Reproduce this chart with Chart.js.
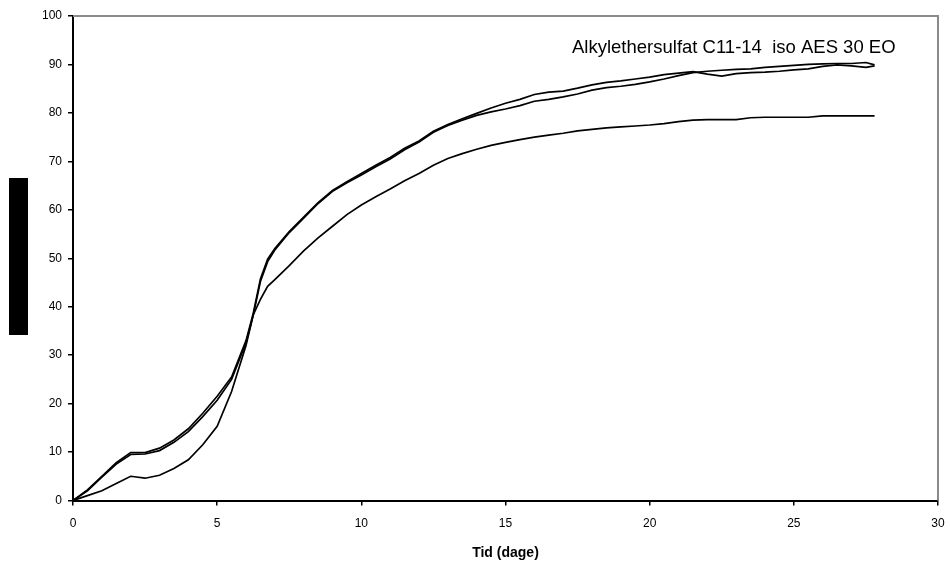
<!DOCTYPE html>
<html>
<head>
<meta charset="utf-8">
<script src="https://cdn.jsdelivr.net/npm/chart.js@4"></script>
<style>
  body { margin: 0; background: #fff; }
  #wrap { width: 950px; height: 575px; }
</style>
</head>
<body>
<div id="wrap"><canvas id="myChart" width="950" height="575"></canvas></div>
<script>
// dage (x)
const dage = [0, 0.5, 1, 1.5, 2, 2.5, 3, 3.5, 4, 4.5, 5, 5.5, 6, 6.25, 6.5, 6.75, 7, 7.5, 8, 8.5, 9, 9.5,
  10, 10.5, 11, 11.5, 12, 12.5, 13, 13.5, 14, 14.5, 15, 15.5, 16, 16.5, 17, 17.5, 18, 18.5, 19, 19.5,
  20, 20.5, 21, 21.5, 22, 22.5, 23, 23.5, 24, 24.5, 25, 25.5, 26, 26.5, 27, 27.5, 27.8];

const serieA = [0, 2.2, 5.0, 7.8, 9.9, 9.9, 10.8, 12.5, 14.8, 18.0, 21.5, 25.5, 33.0, 38.6, 45.7, 49.8, 52.0, 55.5, 58.5, 61.5, 64.0, 65.8,
  67.5, 69.2, 70.8, 72.7, 74.2, 76.2, 77.6, 78.8, 79.9, 81.0, 82.0, 82.8, 83.8, 84.3, 84.5, 85.1, 85.8, 86.3, 86.6, 87.0,
  87.4, 87.9, 88.2, 88.5, 88.0, 87.6, 88.1, 88.3, 88.4, 88.6, 88.9, 89.1, 89.6, 89.9, 89.7, 89.4, 89.7];

const serieB = [0, 2.0, 4.8, 7.5, 9.5, 9.6, 10.3, 12.0, 14.2, 17.3, 20.7, 25.0, 32.5, 38.2, 45.2, 49.3, 51.7, 55.3, 58.3, 61.3, 63.8, 65.6,
  67.2, 68.9, 70.5, 72.4, 74.0, 76.0, 77.4, 78.5, 79.5, 80.2, 80.8, 81.5, 82.4, 82.8, 83.3, 83.9, 84.7, 85.2, 85.5, 85.9,
  86.4, 87.0, 87.7, 88.3, 88.6, 88.8, 89.0, 89.1, 89.4, 89.6, 89.8, 90.0, 90.1, 90.2, 90.2, 90.4, 89.9];

const serieC = [0, 1.0, 2.0, 3.5, 5.0, 4.6, 5.2, 6.6, 8.4, 11.5, 15.3, 22.5, 32.0, 38.3, 41.5, 44.2, 45.6, 48.5, 51.5, 54.2, 56.6, 59.0,
  61.0, 62.7, 64.3, 66.0, 67.5, 69.2, 70.6, 71.6, 72.5, 73.3, 73.9, 74.5, 75.0, 75.4, 75.8, 76.3, 76.6, 76.9, 77.1, 77.3,
  77.5, 77.8, 78.2, 78.5, 78.6, 78.6, 78.6, 79.0, 79.1, 79.1, 79.1, 79.1, 79.4, 79.4, 79.4, 79.4, 79.4];

const stofNavn = "Alkylethersulfat C11-14  iso AES 30 EO";
const xTitel = "Tid (dage)";

const fonte = "'Liberation Sans', Arial, sans-serif";

function punkter(ys) {
  return dage.map(function (d, i) { return { x: d, y: ys[i] }; });
}

function linje(ys) {
  return {
    data: punkter(ys),
    borderColor: "#000",
    borderWidth: 1.7,
    pointRadius: 0,
    tension: 0,
    fill: false
  };
}

// ramme, sort felt og tekst i plottet
const ekstra = {
  id: "ekstra",
  beforeDatasetsDraw(chart) {
    const ctx = chart.ctx;
    const a = chart.chartArea;
    ctx.save();
    ctx.strokeStyle = "#8a8a8a";
    ctx.lineWidth = 2;
    ctx.beginPath();
    ctx.moveTo(a.left, a.top);
    ctx.lineTo(a.right, a.top);
    ctx.lineTo(a.right, a.bottom);
    ctx.stroke();
    ctx.fillStyle = "#000";
    ctx.fillRect(9, 178, 19, 157);
    ctx.font = "18.5px " + fonte;
    ctx.textBaseline = "alphabetic";
    ctx.fillText(stofNavn, 572, 52.5);
    ctx.restore();
  }
};

const config = {
  type: "line",
  data: {
    datasets: [linje(serieA), linje(serieB), linje(serieC)]
  },
  options: {
    responsive: false,
    animation: false,
    layout: { padding: { left: 0, top: 16, right: 12, bottom: 0 } },
    plugins: {
      legend: { display: false },
      tooltip: { enabled: false }
    },
    scales: {
      x: {
        type: "linear",
        min: 0,
        max: 30,
        ticks: { stepSize: 5, color: "#000", font: { family: fonte, size: 12 }, padding: 11, maxRotation: 0 },
        grid: { drawOnChartArea: false, color: "#000", lineWidth: 1.5, tickLength: 5 },
        border: { color: "#000", width: 2 },
        title: { display: true, text: xTitel, color: "#000", font: { family: fonte, size: 14, weight: "bold" }, padding: { top: 4, bottom: 13 } },
        afterFit: function (s) {
          s.height = 74.5;
          s.paddingLeft = 0;
          s.paddingRight = 0;
        }
      },
      y: {
        min: 0,
        max: 100,
        ticks: { stepSize: 10, color: "#000", font: { family: fonte, size: 12 }, padding: 6 },
        grid: { drawOnChartArea: false, color: "#000", lineWidth: 1.5, tickLength: 5 },
        border: { color: "#000", width: 2 },
        afterFit: function (s) {
          s.width = 73;
          s.paddingTop = 0;
          s.paddingBottom = 0;
        }
      }
    }
  },
  plugins: [ekstra]
};

const myChart = new Chart(document.getElementById("myChart"), config);
</script>
</body>
</html>
